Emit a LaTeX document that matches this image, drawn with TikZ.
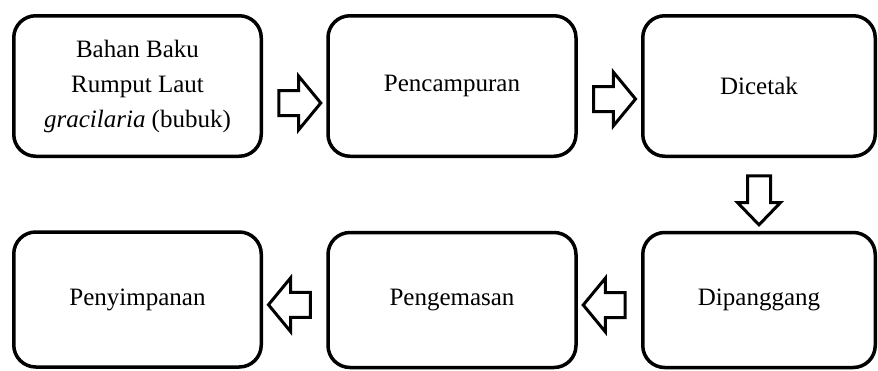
\documentclass[tikz,border=0pt]{standalone}
\usepackage{fontspec}
\setmainfont{Liberation Serif}
\usetikzlibrary{shapes.arrows,calc}

\tikzset{
  x=1pt, y=-1pt,
  stage/.style={draw=black, line width=3.5pt, rounded corners=22pt,
    inner sep=0pt, align=center, text=black,
    font=\fontsize{25}{35}\selectfont},
  toprow/.style={stage, minimum height=140.5pt},
  botrow/.style={stage, minimum height=135pt},
  flowarrow/.style={shape=single arrow, draw=black, fill=white,
    line width=3pt, inner xsep=0pt, inner ysep=11pt,
    minimum height=42pt, single arrow head extend=14.5pt,
    single arrow tip angle=101},
  droparrow/.style={flowarrow, inner ysep=10pt, minimum height=49pt,
    single arrow head extend=10pt, single arrow tip angle=88}
}

\begin{document}
\begin{tikzpicture}
  \useasboundingbox (0,0) rectangle (878,370);

  % process stages, top row left to right
  \node[toprow, minimum width=247.5pt] (bahan) at (137.5,86)
    {Bahan Baku\\Rumput Laut\\\textit{gracilaria} (bubuk)};
  \node[toprow, minimum width=248pt] (campur) at (452,86) {Pencampuran};
  \node[toprow, minimum width=232.5pt] (cetak) at (759,86) {Dicetak};

  % bottom row, read right to left
  \node[botrow, minimum width=247.5pt] (simpan) at (137.5,299.5) {Penyimpanan};
  \node[botrow, minimum width=248pt] (kemas) at (452,300) {Pengemasan};
  \node[botrow, minimum width=232.5pt] (panggang) at (759,300) {Dipanggang};

  % block arrows between stages
  \node[flowarrow] (a1) at ($(bahan.east)!.5!(campur.west)+(0,17)$) {};
  \node[flowarrow] (a2) at ($(campur.east)!.5!(cetak.west)+(0,13)$) {};
  \node[droparrow, rotate=-90] (a3) at ($(cetak.south)!.5!(panggang.north)$) {};
  \node[flowarrow, rotate=180] (a4) at ($(panggang.west)!.5!(kemas.east)+(0,5)$) {};
  \node[flowarrow, rotate=180] (a5) at ($(kemas.west)!.5!(simpan.east)+(0,5)$) {};
\end{tikzpicture}
\end{document}
